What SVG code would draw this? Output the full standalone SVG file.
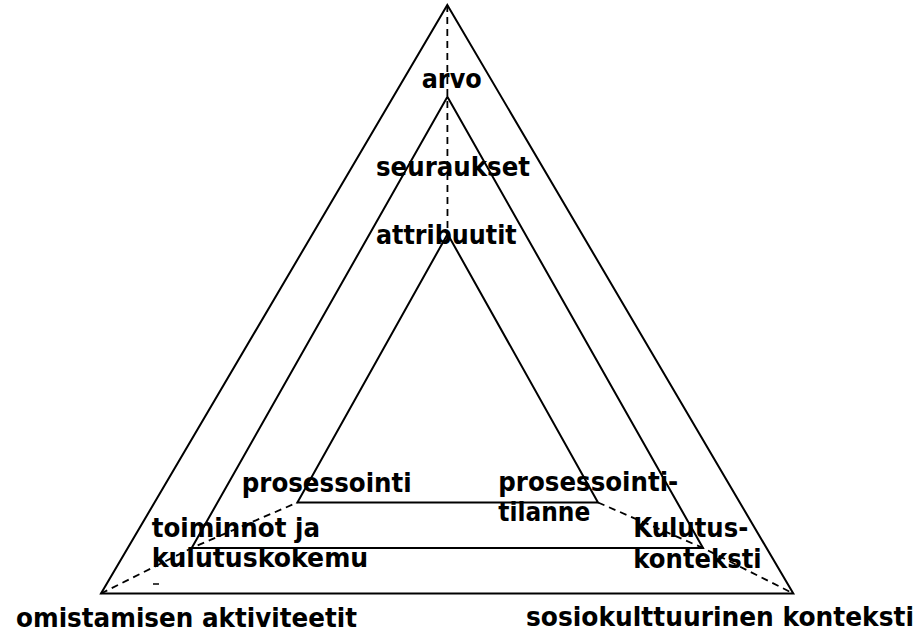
<svg xmlns="http://www.w3.org/2000/svg" width="919" height="632" viewBox="0 0 919 632">
  <style>
    .lbl { font-family: "DejaVu Sans", "Liberation Sans", sans-serif; font-weight: bold; font-size: 27px; fill: #000; }
    .tri { fill: none; stroke: #000; stroke-width: 2; stroke-linejoin: miter; }
    .dash { fill: none; stroke: #000; stroke-width: 1.8; stroke-dasharray: 7 5; }
  </style>
  <rect width="919" height="632" fill="#fff"/>

  <!-- labels -->
  <g id="labels">
    <g id="arvo"><text class="lbl" x="421.7" y="87.5" textLength="60" lengthAdjust="spacingAndGlyphs">arvo</text></g>
    <g id="seuraukset"><text class="lbl" x="376" y="175.5" textLength="154" lengthAdjust="spacingAndGlyphs">seuraukset</text></g>
    <g id="attribuutit"><text class="lbl" x="376" y="244" textLength="140.7" lengthAdjust="spacingAndGlyphs">attribuutit</text></g>
    <g id="prosessointi"><text class="lbl" x="241.7" y="491.7" textLength="170" lengthAdjust="spacingAndGlyphs">prosessointi</text></g>
    <g id="prosessointitilanne">
      <text class="lbl" x="498.3" y="491" textLength="180" lengthAdjust="spacingAndGlyphs">prosessointi-</text>
      <text class="lbl" x="498.3" y="521" textLength="92" lengthAdjust="spacingAndGlyphs">tilanne</text>
    </g>
    <g id="toiminnot">
      <text class="lbl" x="151.7" y="537.3" textLength="168.3" lengthAdjust="spacingAndGlyphs">toiminnot ja</text>
      <text class="lbl" x="151.7" y="566.7" textLength="216.6" lengthAdjust="spacingAndGlyphs">kulutuskokemu</text>
      <line x1="153" y1="584" x2="159" y2="584" stroke="#000" stroke-width="1.5"/>
    </g>
    <g id="kulutuskonteksti">
      <text class="lbl" x="633.3" y="536.7" textLength="115" lengthAdjust="spacingAndGlyphs">Kulutus-</text>
      <text class="lbl" x="633.3" y="568.3" textLength="128.4" lengthAdjust="spacingAndGlyphs">konteksti</text>
    </g>
    <g id="omistaminen"><text class="lbl" x="16" y="626.7" textLength="341" lengthAdjust="spacingAndGlyphs">omistamisen aktiviteetit</text></g>
    <g id="sosiokulttuurinen"><text class="lbl" x="526" y="626" textLength="388" lengthAdjust="spacingAndGlyphs">sosiokulttuurinen konteksti</text></g>
  </g>

  <!-- nested triangles -->
  <g id="triangles">
    <polygon id="outer" class="tri" points="447.3,5 793.3,593.5 101,593.5"/>
    <polygon id="middle" class="tri" points="447.4,96.7 703,548 191.7,548"/>
    <polygon id="inner" class="tri" points="447.6,234 598,502.5 297.4,502.5"/>
  </g>

  <!-- dashed links between corresponding vertices -->
  <g id="connectors">
    <line class="dash" x1="447.3" y1="5" x2="447.5" y2="234"/>
    <polyline class="dash" points="101,593.5 191.7,548 297.4,502.5"/>
    <polyline class="dash" points="598,502.5 703,548 793.3,593.5"/>
  </g>
</svg>
